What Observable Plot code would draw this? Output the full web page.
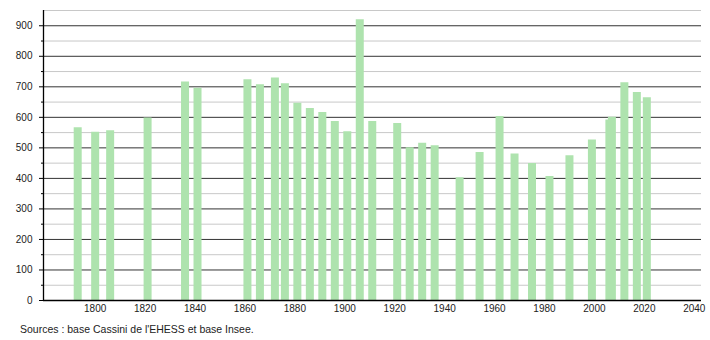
<!DOCTYPE html>
<html>
<head>
<meta charset="utf-8">
<script src="https://cdn.jsdelivr.net/npm/d3@7"></script>
<script src="https://cdn.jsdelivr.net/npm/@observablehq/plot@0.6"></script>
<style>
  html, body { margin: 0; padding: 0; background: #fff; }
  #chart { width: 710px; }
  #caption { font-family: "Liberation Sans", Arial, sans-serif; font-size: 10.5px; color: #222; padding-left: 20px; margin-top: 8px; }
</style>
</head>
<body>
<div id="chart"></div>
<div id="caption">Sources : base Cassini de l'EHESS et base Insee.</div>
<script>
const years = [1793, 1800, 1806, 1821, 1836, 1841, 1861, 1866, 1872, 1876, 1881, 1886, 1891, 1896, 1901, 1906, 1911, 1921, 1926, 1931, 1936, 1946, 1954, 1962, 1968, 1975, 1982, 1990, 1999, 2006, 2007, 2012, 2017, 2021];
const population = [566, 551, 556, 598, 716, 695, 723, 707, 729, 710, 646, 629, 616, 586, 553, 920, 586, 580, 500, 515, 507, 402, 485, 603, 480, 449, 406, 474, 526, 591, 600, 713, 681, 664];
const xTicks = [1800, 1820, 1840, 1860, 1880, 1900, 1920, 1940, 1960, 1980, 2000, 2020, 2040];
const yTicks = [0, 100, 200, 300, 400, 500, 600, 700, 800, 900];
const yMinor = [50, 150, 250, 350, 450, 550, 650, 750, 850, 950];

const data = years.map((y, i) => ({year: y, pop: population[i]}));
const xDomain = [1779.3, 2042.9];

const chart = Plot.plot({
  width: 710,
  height: 315,
  marginLeft: 43,
  marginRight: 9,
  marginTop: 10,
  marginBottom: 15,
  style: {fontFamily: "'Liberation Sans', Arial, sans-serif", fontSize: "10px", color: "#222", background: "#fff"},
  x: {domain: xDomain, axis: null, label: null},
  y: {domain: [0, 950], axis: null, label: null},
  marks: [
    Plot.ruleY(yMinor, {stroke: "#c8c8c8", strokeWidth: 1}),
    Plot.ruleY(yTicks.slice(1), {stroke: "#333", strokeWidth: 1}),
    Plot.ruleX(data, {x: "year", y1: 0, y2: "pop", stroke: "#aee3ae", strokeWidth: 8}),
    Plot.axisY(yTicks, {tickSize: 4, tickPadding: 7, stroke: "#000", fill: "#222", label: null, tickFormat: d => String(d)}),
    Plot.axisY(yMinor.slice(0, -1), {tickSize: 2, text: null, stroke: "#000", label: null}),
    Plot.axisX(xTicks, {tickSize: 0, tickPadding: 4, fill: "#222", label: null, tickFormat: d => String(d)}),
    Plot.ruleX([xDomain[0]], {stroke: "#000", strokeWidth: 1.3}),
    Plot.ruleY([0], {stroke: "#000", strokeWidth: 1.3})
  ]
});
document.getElementById("chart").appendChild(chart);
</script>
</body>
</html>
